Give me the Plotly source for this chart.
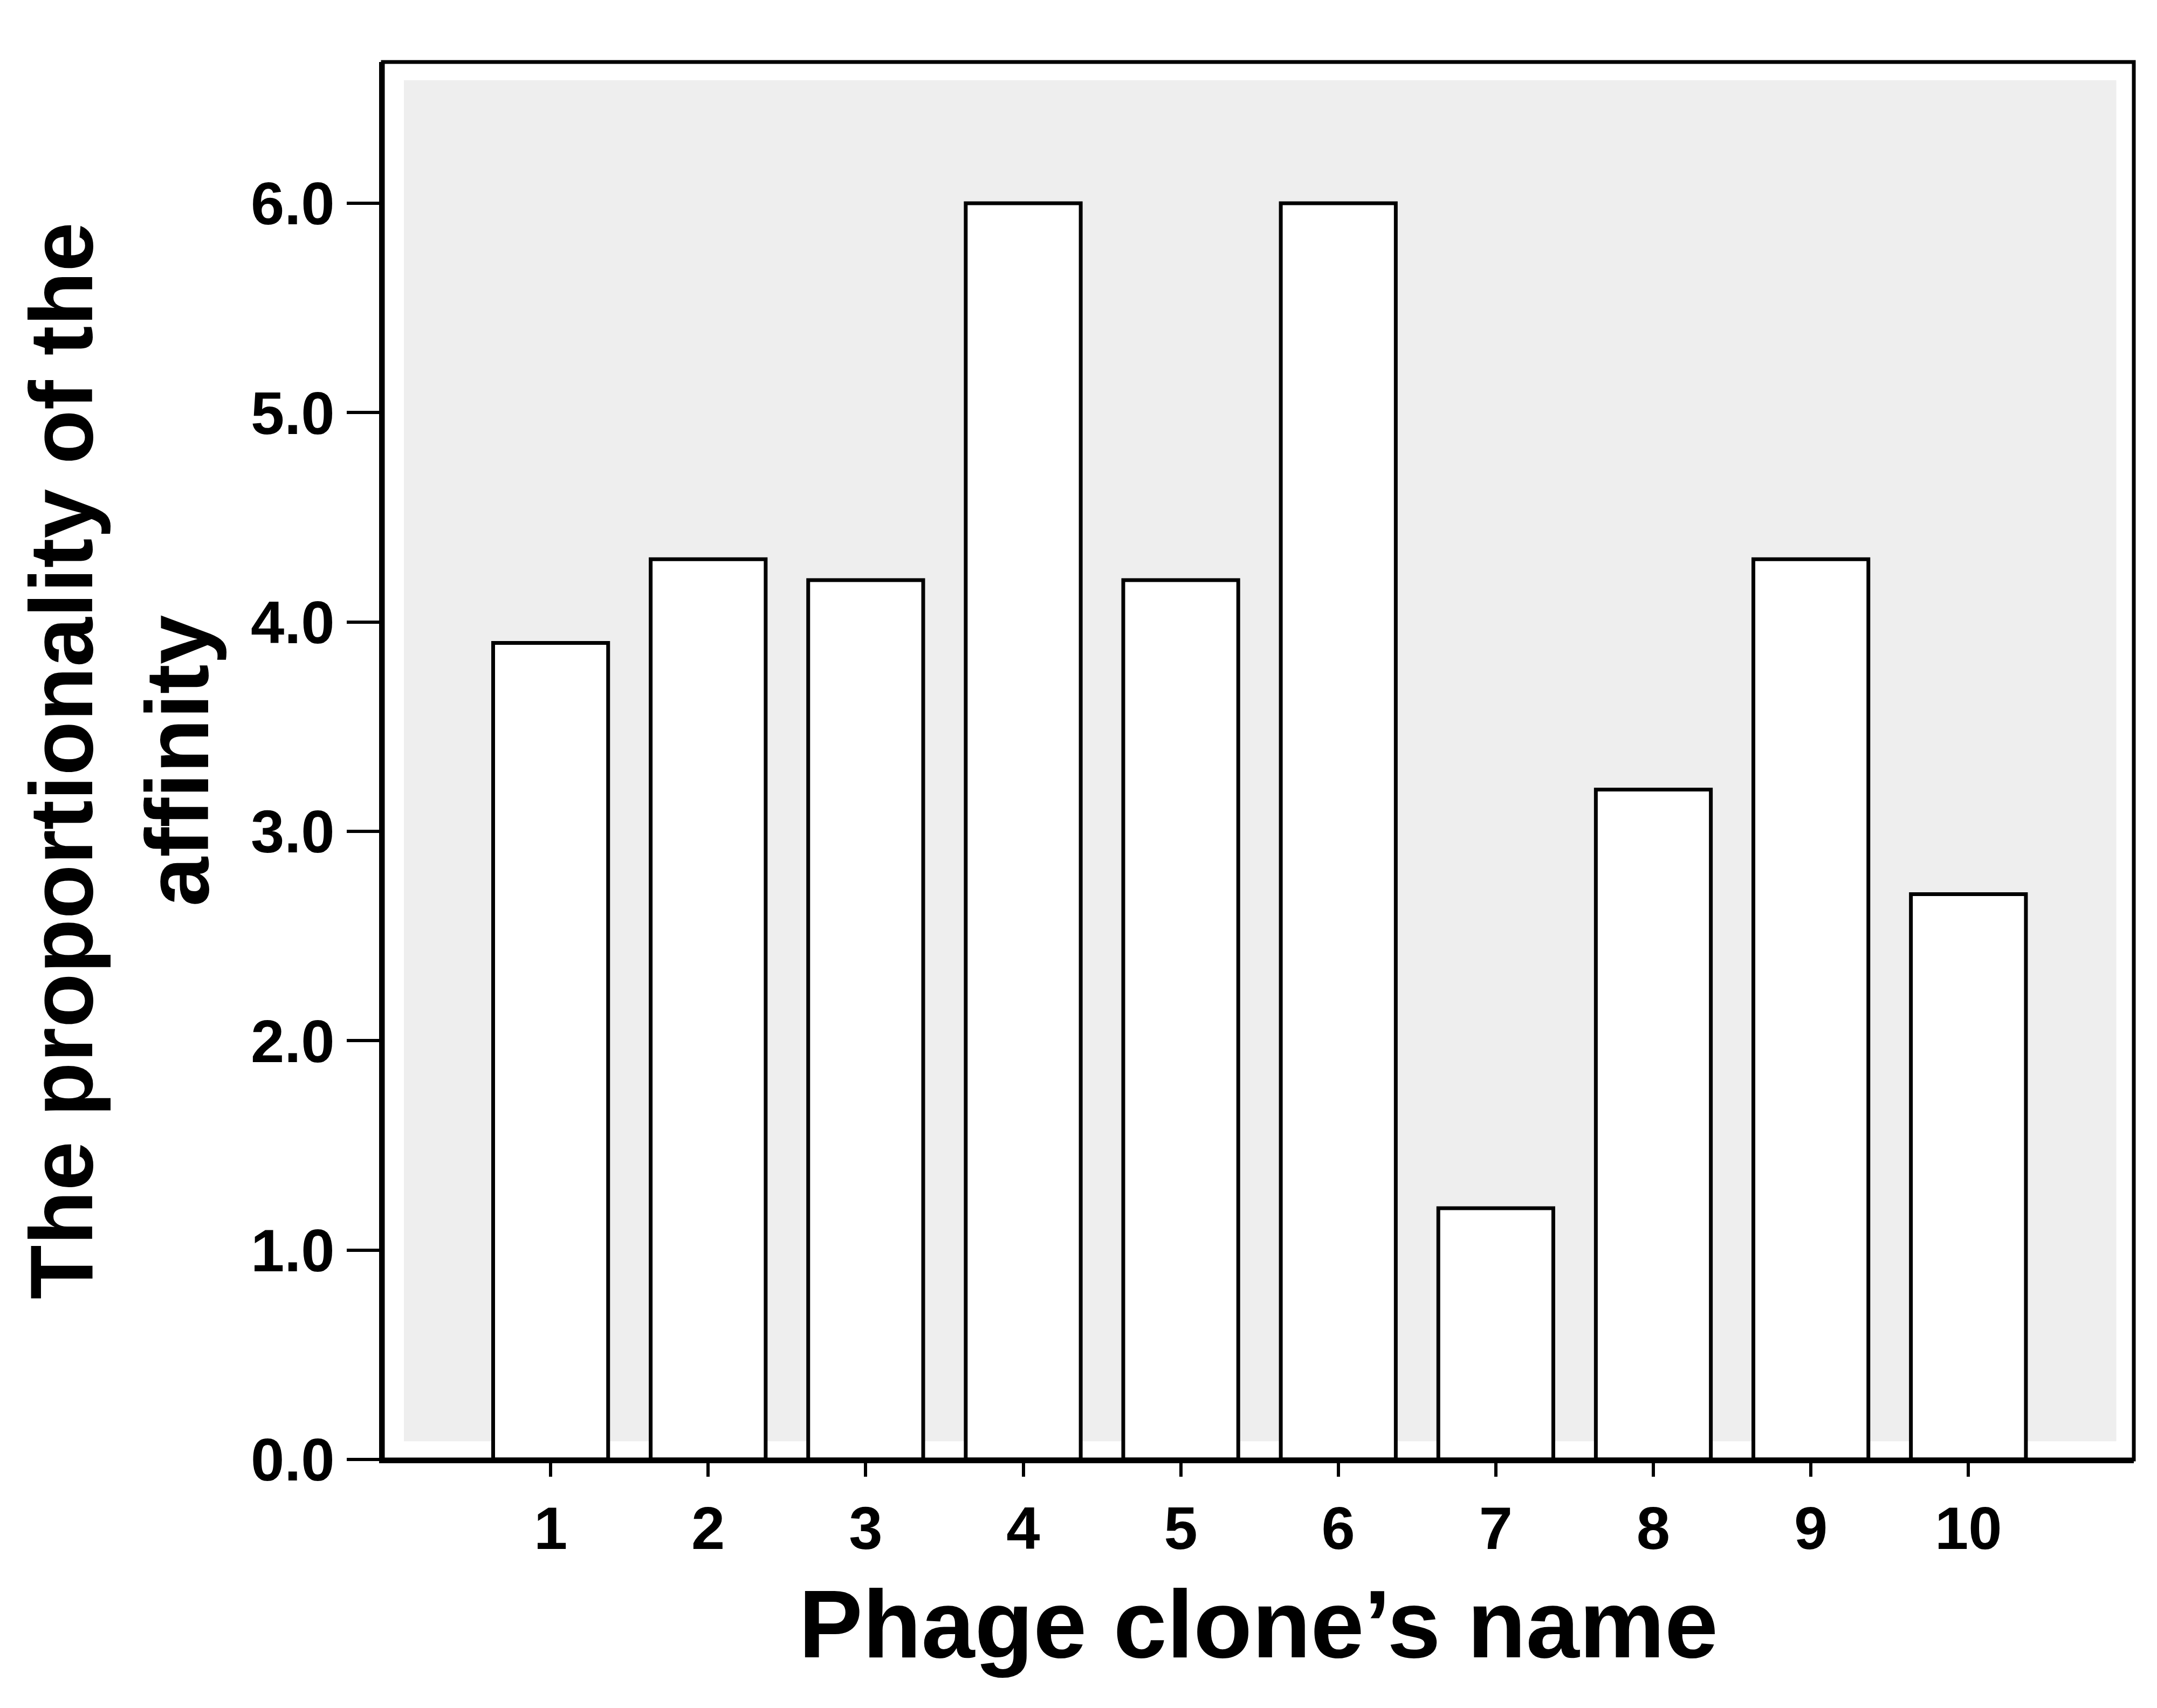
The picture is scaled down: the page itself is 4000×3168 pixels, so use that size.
import plotly.graph_objects as go

clones = ["1","2","3","4","5","6","7","8","9","10"]
affinity = [3.9, 4.3, 4.2, 6.0, 4.2, 6.0, 1.2, 3.2, 4.3, 2.7]
yticks = [0, 1, 2, 3, 4, 5, 6]
ytick_labels = ["0.0","1.0","2.0","3.0","4.0","5.0","6.0"]

xpos = list(range(len(clones)))
fig = go.Figure(go.Bar(x=xpos, y=affinity, width=0.73,
                       marker=dict(color="white", line=dict(color="black", width=7))))
font = dict(family="Liberation Sans, Arial", color="black")
fig.update_layout(
    width=4000, height=3168, paper_bgcolor="white", plot_bgcolor="white",
    margin=dict(l=702, r=51, t=107, b=469), showlegend=False,
    font=font,
    shapes=[dict(type="rect", xref="paper", yref="paper", x0=0.012, x1=0.99, y0=0.013, y1=0.987,
                 fillcolor="#eeeeee", line=dict(width=0), layer="below"),
            dict(type="rect", xref="paper", yref="paper", x0=0, x1=1, y0=0, y1=1,
                 line=dict(color="black", width=7), layer="above")],
)
fig.update_xaxes(range=[-1.065, 10.05], tickvals=xpos, ticktext=["<b>%s</b>" % c for c in clones],
                 ticks="outside", ticklen=25, tickwidth=6, tickcolor="black",
                 showline=True, linecolor="black", linewidth=7, showgrid=False, zeroline=False,
                 tickfont=dict(size=112, family="Liberation Sans, Arial"),
                 title=dict(text="<b>Phage clone’s name</b>", font=dict(size=178), standoff=55))
fig.update_yaxes(range=[0, 6.675], tickvals=yticks, ticktext=["<b>%s</b>" % t for t in ytick_labels],
                 ticks="outside", ticklen=60, tickwidth=6, tickcolor="black",
                 showline=True, linecolor="black", linewidth=7, showgrid=False, zeroline=False,
                 tickfont=dict(size=112, family="Liberation Sans, Arial"),
                 title=dict(text="<b>The proportionality of the<br>affinity</b>", font=dict(size=165), standoff=25))
fig.write_html("out.html")
